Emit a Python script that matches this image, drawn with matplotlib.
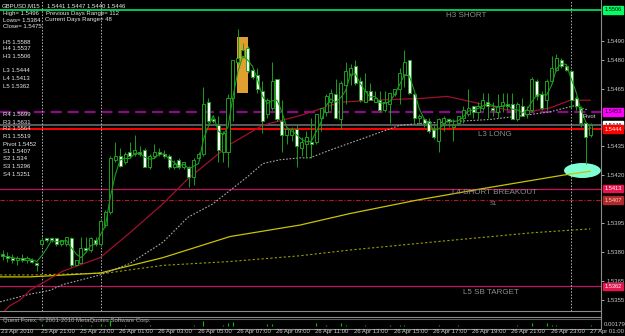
import numpy as np
import pandas as pd
import matplotlib
matplotlib.use("Agg")
import matplotlib.pyplot as plt
from matplotlib.patches import Rectangle, Ellipse
from matplotlib.lines import Line2D
from matplotlib import font_manager as fm

# ---------------- data (GBPUSD M15) ----------------
opens = [1.5379, 1.5378, 1.5377, 1.5376, 1.5377, 1.5376, 1.5376, 1.5374, 1.5384, 1.5387,
         1.5387, 1.5387, 1.5384, 1.5384, 1.5387, 1.5373, 1.5374, 1.5382, 1.5381, 1.5386,
         1.5384, 1.5394, 1.5401, 1.5428, 1.5430, 1.5427, 1.5432, 1.5431, 1.5432, 1.5433,
         1.5424, 1.5430, 1.5432, 1.5431, 1.5430, 1.5424, 1.5428, 1.5424, 1.5424, 1.5419,
         1.5429, 1.5431, 1.5458, 1.5449, 1.5446, 1.5432, 1.5432, 1.5460, 1.5479, 1.5482,
         1.5486, 1.5475, 1.5472, 1.5464, 1.5452, 1.5455, 1.5470, 1.5448, 1.5441, 1.5441,
         1.5444, 1.5434, 1.5436, 1.5437, 1.5437, 1.5450, 1.5453, 1.5458, 1.5462, 1.5449,
         1.5467, 1.5472, 1.5477, 1.5469, 1.5458, 1.5464, 1.5458, 1.5459, 1.5454, 1.5457,
         1.5462, 1.5465, 1.5472, 1.5480, 1.5462, 1.5450, 1.5449, 1.5448, 1.5444, 1.5438,
         1.5447, 1.5449, 1.5445, 1.5447, 1.5450, 1.5452, 1.5456, 1.5453, 1.5455, 1.5458,
         1.5455, 1.5453, 1.5456, 1.5457, 1.5457, 1.5449, 1.5456, 1.5452, 1.5454, 1.5469,
         1.5462, 1.5459, 1.5469, 1.5475, 1.5480, 1.5477, 1.5474, 1.5460, 1.5455, 1.5447,
         1.5441]
highs = [1.5381, 1.5380, 1.5379, 1.5378, 1.5379, 1.5378, 1.5377, 1.5375, 1.5388, 1.5387,
         1.5388, 1.5387, 1.5386, 1.5388, 1.5388, 1.5376, 1.5388, 1.5388, 1.5388, 1.5388,
         1.5397, 1.5402, 1.5430, 1.5437, 1.5434, 1.5432, 1.5437, 1.5441, 1.5435, 1.5434,
         1.5431, 1.5436, 1.5434, 1.5433, 1.5431, 1.5428, 1.5429, 1.5427, 1.5425, 1.5429,
         1.5432, 1.5466, 1.5460, 1.5450, 1.5451, 1.5443, 1.5462, 1.5480, 1.5496, 1.5489,
         1.5487, 1.5476, 1.5476, 1.5469, 1.5460, 1.5479, 1.5470, 1.5459, 1.5445, 1.5445,
         1.5446, 1.5440, 1.5443, 1.5450, 1.5452, 1.5455, 1.5462, 1.5465, 1.5470, 1.5469,
         1.5479, 1.5478, 1.5480, 1.5471, 1.5473, 1.5468, 1.5464, 1.5464, 1.5464, 1.5463,
         1.5465, 1.5476, 1.5485, 1.5480, 1.5463, 1.5452, 1.5450, 1.5450, 1.5446, 1.5450,
         1.5451, 1.5450, 1.5449, 1.5451, 1.5456, 1.5465, 1.5456, 1.5458, 1.5463, 1.5463,
         1.5458, 1.5462, 1.5463, 1.5463, 1.5463, 1.5458, 1.5460, 1.5456, 1.5471, 1.5470,
         1.5464, 1.5470, 1.5482, 1.5483, 1.5481, 1.5478, 1.5475, 1.5461, 1.5456, 1.5447,
         1.5447]
lows = [1.5376, 1.5375, 1.5374, 1.5373, 1.5375, 1.5374, 1.5374, 1.5370, 1.5383, 1.5385,
        1.5385, 1.5383, 1.5383, 1.5383, 1.5372, 1.5373, 1.5374, 1.5380, 1.5380, 1.5383,
        1.5383, 1.5393, 1.5400, 1.5427, 1.5424, 1.5426, 1.5429, 1.5430, 1.5430, 1.5424,
        1.5423, 1.5429, 1.5430, 1.5429, 1.5423, 1.5423, 1.5423, 1.5423, 1.5414, 1.5415,
        1.5428, 1.5430, 1.5447, 1.5447, 1.5427, 1.5427, 1.5424, 1.5448, 1.5478, 1.5481,
        1.5473, 1.5470, 1.5463, 1.5442, 1.5450, 1.5454, 1.5448, 1.5432, 1.5436, 1.5438,
        1.5424, 1.5430, 1.5429, 1.5429, 1.5436, 1.5443, 1.5451, 1.5454, 1.5449, 1.5444,
        1.5457, 1.5467, 1.5467, 1.5458, 1.5458, 1.5459, 1.5458, 1.5453, 1.5453, 1.5447,
        1.5461, 1.5457, 1.5466, 1.5462, 1.5447, 1.5446, 1.5445, 1.5442, 1.5439, 1.5432,
        1.5443, 1.5445, 1.5438, 1.5446, 1.5447, 1.5451, 1.5450, 1.5449, 1.5454, 1.5450,
        1.5451, 1.5450, 1.5453, 1.5454, 1.5449, 1.5448, 1.5451, 1.5450, 1.5453, 1.5459,
        1.5454, 1.5454, 1.5468, 1.5474, 1.5476, 1.5474, 1.5455, 1.5454, 1.5445, 1.5426,
        1.5440]
closes = [1.5378, 1.5377, 1.5376, 1.5377, 1.5376, 1.5377, 1.5375, 1.5373, 1.5386, 1.5386,
          1.5386, 1.5384, 1.5386, 1.5388, 1.5373, 1.5376, 1.5382, 1.5381, 1.5387, 1.5384,
          1.5396, 1.5401, 1.5429, 1.5430, 1.5425, 1.5431, 1.5430, 1.5433, 1.5431, 1.5424,
          1.5430, 1.5432, 1.5431, 1.5430, 1.5424, 1.5426, 1.5424, 1.5427, 1.5419, 1.5428,
          1.5431, 1.5457, 1.5448, 1.5448, 1.5433, 1.5442, 1.5460, 1.5480, 1.5481, 1.5485,
          1.5474, 1.5471, 1.5465, 1.5448, 1.5459, 1.5469, 1.5449, 1.5441, 1.5444, 1.5444,
          1.5435, 1.5437, 1.5440, 1.5436, 1.5452, 1.5455, 1.5461, 1.5463, 1.5450, 1.5468,
          1.5474, 1.5476, 1.5468, 1.5459, 1.5464, 1.5459, 1.5460, 1.5454, 1.5458, 1.5463,
          1.5465, 1.5473, 1.5479, 1.5463, 1.5450, 1.5451, 1.5447, 1.5443, 1.5440, 1.5449,
          1.5450, 1.5448, 1.5446, 1.5451, 1.5454, 1.5455, 1.5453, 1.5456, 1.5459, 1.5456,
          1.5454, 1.5456, 1.5458, 1.5456, 1.5449, 1.5457, 1.5451, 1.5454, 1.5470, 1.5461,
          1.5455, 1.5469, 1.5476, 1.5481, 1.5477, 1.5475, 1.5459, 1.5456, 1.5447, 1.5440,
          1.5446]

# time axis labels (bar index where each label sits)
time_labels = ["23 Apr 2010", "25 Apr 21:00", "25 Apr 23:00", "26 Apr 01:00", "26 Apr 03:00",
               "26 Apr 05:00", "26 Apr 07:00", "26 Apr 09:00", "26 Apr 11:00", "26 Apr 13:00",
               "26 Apr 15:00", "26 Apr 17:00", "26 Apr 19:00", "26 Apr 21:00", "26 Apr 23:00",
               "27 Apr 01:00"]
time_label_bars = [0, 8, 16, 24, 32, 40, 48, 56, 64, 72, 80, 88, 96, 104, 112, 120]
day_separator_bars = [8, 20, 116]

# moving-average lines (bar index, price)
red_ma_bars = [-0.5, 1.5, 3.6, 5.6, 12.3, 19.9, 26.0, 32.7, 37.8, 46.4, 53.1, 60.7, 65.4, 68.9,
               75.6, 85.8, 90.7, 96.0, 102.9, 107.6, 111.7, 115.8, 119.9]
red_ma_vals = [1.5347, 1.5352, 1.5355, 1.5360, 1.5370, 1.5377, 1.5390, 1.5405, 1.5418, 1.5436,
               1.5446, 1.5451, 1.5455, 1.5458, 1.5459, 1.5460, 1.5461, 1.5458, 1.5454, 1.5453,
               1.5455, 1.5459, 1.5459]
grey_ma_bars = [-0.5, 5.6, 9.7, 12.3, 19.9, 26.0, 32.7, 37.8, 42.9, 46.4, 49.9, 53.1, 56.6, 60.7,
                62.7, 66.8, 72.3, 81.1, 85.8, 92.7, 99.5, 106.2, 111.7, 116.4, 119.4]
grey_ma_vals = [1.5354, 1.5358, 1.5360, 1.5363, 1.5368, 1.5374, 1.5385, 1.5398, 1.5405, 1.5412,
                1.5419, 1.5426, 1.5428, 1.5429, 1.5429, 1.5433, 1.5438, 1.5446, 1.5447, 1.5448,
                1.5449, 1.5451, 1.5453, 1.5456, 1.5454]
yellow_ma_bars = [-0.5, 5.6, 19.9, 32.7, 46.4, 60.7, 70.9, 84.6, 98.0, 114.4, 119.9]
yellow_ma_vals = [1.5367, 1.5367, 1.5369, 1.5377, 1.5388, 1.5394, 1.5400, 1.5407, 1.5413, 1.5420,
                  1.5422]
olive_ma_bars = [-0.5, 5.6, 21.3, 32.7, 46.4, 60.7, 70.9, 91.3, 108.2, 119.9]
olive_ma_vals = [1.5368, 1.5368, 1.5369, 1.5373, 1.5375, 1.5378, 1.5381, 1.5386, 1.5390, 1.5392]

# horizontal levels
level_h3_short = 1.5506
level_pivot = 1.5453
level_bid = 1.5446
level_l3_long = 1.5444
level_l4_breakout = 1.5413
level_s1 = 1.5407
level_l5_target = 1.5362

right_ticks = [1.5490, 1.5480, 1.5465, 1.5435, 1.5420, 1.5395, 1.5380, 1.5365, 1.5355]

# drawn objects
rect_bars = (47.8, 50.1)
rect_prices = (1.54629, 1.54921)
ellipse_center = (118.3, 1.54224)
ellipse_size = (7.5, 0.00078)

header_lines = [
    ("GBPUSD,M15", 2, 6), ("1.5441 1.5447 1.5440 1.5446", 47, 6),
    ("High= 1.5496", 3, 13), ("Previous Days Range= 112", 46, 13),
    ("Lows= 1.5384", 3, 20), ("Current Days Range= 48", 45, 20),
    ("Close= 1.5475", 3, 27),
    ("H5 1.5588", 3, 42), ("H4 1.5537", 3, 49), ("H3 1.5506", 3, 57),
    ("L3 1.5444", 3, 71), ("L4 1.5413", 3, 79), ("L5 1.5362", 3, 86),
    ("R4 1.5699", 3, 115), ("R3 1.5631", 3, 122), ("R2 1.5564", 3, 129),
    ("R1 1.5519", 3, 137), ("Pivot 1.5452", 3, 144), ("S1 1.5407", 3, 152),
    ("S2 1.534", 3, 159), ("S3 1.5296", 3, 167), ("S4 1.5251", 3, 174),
]

# ---------------- figure ----------------
names = {f.name for f in fm.fontManager.ttflist}
NARROW = "Liberation Sans Narrow" in names
FAM = "Liberation Sans Narrow" if NARROW else "Liberation Sans"
FS = 5.0 if NARROW else 4.3
plt.rcParams["font.family"] = [FAM, "DejaVu Sans"]

W, H = 625, 336
fig = plt.figure(figsize=(6.25, 3.36), dpi=100, facecolor="black")


def frect(x0, y0, x1, y1):
    return [x0 / W, 1 - y1 / H, (x1 - x0) / W, (y1 - y0) / H]


BAR_PX = 4.902
BAR0_PX = 2.5
ax = fig.add_axes(frect(0, 0, 601, 311))
ax.set_facecolor("black")
ax.set_xlim((0 - BAR0_PX) / BAR_PX, (601 - BAR0_PX) / BAR_PX)
ax.set_ylim(1.5506 - 301 / 19200, 1.5506 + 10 / 19200)
for s in ax.spines.values():
    s.set_visible(False)
ax.set_xticks([])
ax.yaxis.tick_right()
ax.set_yticks(right_ticks)
ax.set_yticklabels([f"{v:.4f}" for v in right_ticks])
ax.tick_params(axis="y", colors="#c8c8c8", labelsize=FS, length=2.5, width=0.6, pad=1.5)

o = np.array(opens); h = np.array(highs); l = np.array(lows); c = np.array(closes)
n = len(o)
xb = np.arange(n)

# horizontal levels
ax.axhline(level_h3_short, color="#00ff66", lw=1.1, zorder=1)
ax.axhline(level_pivot, color="#8b0a8b", lw=1.6, ls=(0, (5, 2.6)), zorder=1)
ax.axhline(level_bid, color="#5c5c5c", lw=1.4, zorder=1)
ax.axhline(level_l3_long, color="#ff0000", lw=1.4, zorder=1)
ax.axhline(level_l4_breakout, color="#c0145c", lw=0.9, zorder=1)
ax.axhline(level_s1, color="#b01c1c", lw=0.8, ls=(0, (4, 1.5, 1, 1.5)), zorder=1)
ax.axhline(level_l5_target, color="#c0145c", lw=0.9, zorder=1)

# separators
for b in day_separator_bars:
    ax.axvline(b, color="#b0b0b0", lw=0.7, ls=(0, (1.6, 1.6)), zorder=1.5)

# drawn objects
ax.add_patch(Rectangle((rect_bars[0], rect_prices[0]), rect_bars[1] - rect_bars[0],
                       rect_prices[1] - rect_prices[0], fc="#e0a030", ec="none", zorder=2))
ax.add_patch(Ellipse(ellipse_center, ellipse_size[0], ellipse_size[1], fc="#80ffd4",
                     ec="none", zorder=2))

# slow MAs
ax.plot(olive_ma_bars, olive_ma_vals, color="#9c9c00", lw=0.8, ls=(0, (2, 2)), zorder=2.5)
ax.plot(yellow_ma_bars, yellow_ma_vals, color="#c8c400", lw=0.9, zorder=2.5)
ax.plot(grey_ma_bars, grey_ma_vals, color="#a8a8a8", lw=0.8, ls=(0, (1.5, 1.5)), zorder=2.5)
ax.plot(red_ma_bars, red_ma_vals, color="#a0102e", lw=0.9, zorder=2.5)

# candles
WICK = "#1aa01a"
ax.vlines(xb, l, h, color=WICK, lw=0.7, zorder=3)
up = c >= o
bot = np.minimum(o, c)
hgt = np.maximum(np.abs(c - o), 0.00002)
ax.bar(xb[up], hgt[up], bottom=bot[up], width=0.62, color="black", edgecolor=WICK,
       linewidth=0.7, zorder=4)
ax.bar(xb[~up], hgt[~up], bottom=bot[~up], width=0.62, color="white", edgecolor=WICK,
       linewidth=0.7, zorder=4)

# fast MA of closes
fast = pd.Series(c).rolling(3, min_periods=1).mean()
ax.plot(xb, fast, color="#1f9a1f", lw=0.8, zorder=5)

# level labels in chart
LBL = dict(color="#8c8c8c", fontsize=5.8, family="Liberation Sans", va="center", ha="left",
           zorder=6)
ax.text(90.4, 1.55029, "H3 SHORT", **LBL)
ax.text(97.0, 1.54414, "L3 LONG", **LBL)
ax.text(91.7, 1.54107, "L4 SHORT BREAKOUT", **LBL)
ax.text(99.3, 1.54052, "S1", color="#8c8c8c", fontsize=4.2, va="center", ha="left", zorder=6)
ax.text(93.9, 1.53591, "L5 SB TARGET", **LBL)
ax.text(118.4, 1.54503, "Pivot", color="#d8d8d8", fontsize=FS, va="center", ha="left", zorder=6)

# right-side price boxes
ytr = ax.get_yaxis_transform()
boxes = [(level_h3_short, "#00ff66", "black"), (level_pivot, "#ff00ff", "black"),
         (level_bid, "#ffffff", "black"), (level_l3_long, "#ff0000", "white"),
         (level_l4_breakout, "#e8144e", "white"), (level_s1, "#b02828", "#ffd0d0"),
         (level_l5_target, "#e8144e", "white")]
for v, fc, tc in boxes:
    ax.text(1.006, v, f"{v:.4f}", transform=ytr, fontsize=FS * 0.95, color=tc, va="center",
            ha="left", clip_on=False, zorder=7,
            bbox=dict(boxstyle="square,pad=0.22", fc=fc, ec=fc))

# ---------------- indicator sub-panel ----------------
sub = fig.add_axes(frect(0, 319, 601, 329))
sub.set_facecolor("black")
sub.set_xlim(ax.get_xlim())
for s in sub.spines.values():
    s.set_visible(False)
sub.set_xticks([]); sub.set_yticks([])
mom = pd.Series(c).diff().fillna(0).values
pos = mom > 0
sub.vlines(xb[pos], 0, mom[pos], color="#00c000", lw=0.8)
sub.set_ylim(-0.0012, 0.0035)

# frame lines
def hline_px(y, x0, x1, color, lw):
    fig.add_artist(Line2D([x0 / W, x1 / W], [1 - y / H, 1 - y / H], color=color, lw=lw))

hline_px(311, 0, 601, "#8a8a8a", 0.8)
hline_px(316.5, 0, 601, "#8a8a8a", 0.8)
hline_px(318.5, 0, 601, "#5a5a5a", 0.8)
hline_px(329, 0, 601, "#8a8a8a", 0.8)
fig.add_artist(Line2D([601 / W, 601 / W], [1 - 329 / H, 1], color="#8a8a8a", lw=0.8))

# ---------------- texts ----------------
def ftext(x, y, s, **kw):
    kw.setdefault("color", "#e8e8e8")
    kw.setdefault("fontsize", FS)
    fig.text(x / W, 1 - y / H, s, va="center", ha="left", **kw)

for s, x, y in header_lines:
    ftext(x, y, s)

ftext(3, 320.5, "Quest Forex, \u00a9 2001-2010 MetaQuotes Software Corp.", color="#b4b4b4")
ftext(604, 325, "0.00179", color="#c8c8c8")

for lab, b in zip(time_labels, time_label_bars):
    xp = BAR0_PX + b * BAR_PX
    ftext(xp - 1, 332, lab, color="#d0d0d0")

fig.savefig("out.png", dpi=100, facecolor="black")
